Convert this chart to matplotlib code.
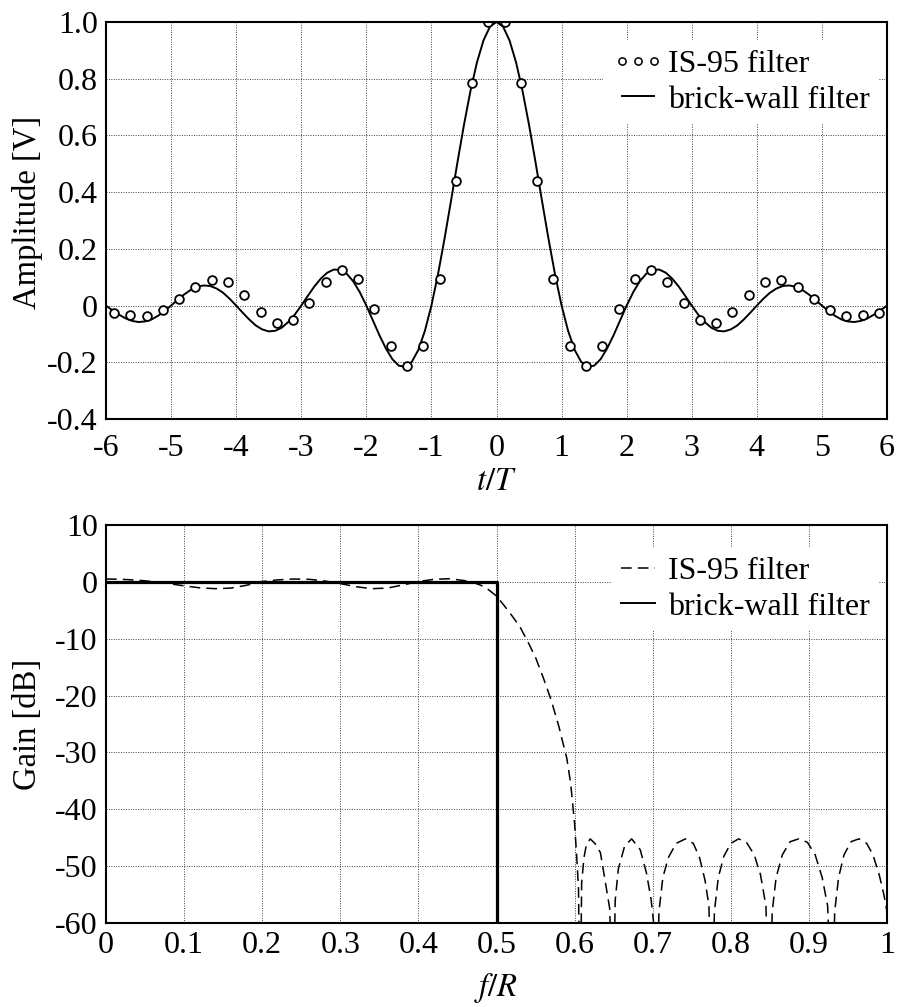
import numpy as np
import matplotlib
matplotlib.use('Agg')
import matplotlib.pyplot as plt
from matplotlib.lines import Line2D

plt.rcParams['font.family'] = ['Liberation Serif', 'DejaVu Serif']
plt.rcParams['mathtext.fontset'] = 'stix'
plt.rcParams['axes.unicode_minus'] = False

# --- impulse response (top) ---
# IS-95 taps, first half (t/T = -5.875 ... -0.125), filter is symmetric
is95_half = [-0.025, -0.034, -0.036, -0.017, 0.022, 0.065, 0.091, 0.082,
             0.037, -0.022, -0.061, -0.051, 0.008, 0.084, 0.127, 0.095,
             -0.013, -0.143, -0.212, -0.141, 0.095, 0.441, 0.786, 1.000]
t_is95 = np.arange(-5.875, 6.0, 0.25)
amp_is95 = is95_half + is95_half[::-1]

# brick-wall impulse response read at t/T = 0, 0.1, ..., 6 (even function)
brick_half = [1.000, 0.984, 0.935, 0.858, 0.757, 0.637, 0.505, 0.368, 0.234, 0.109,
              0.000, -0.089, -0.156, -0.198, -0.216, -0.212, -0.189, -0.151, -0.104, -0.052,
              0.000, 0.047, 0.085, 0.112, 0.126, 0.127, 0.116, 0.095, 0.067, 0.034,
              0.000, -0.032, -0.058, -0.078, -0.089, -0.091, -0.084, -0.070, -0.049, -0.025,
              0.000, 0.024, 0.045, 0.060, 0.069, 0.071, 0.066, 0.055, 0.039, 0.020,
              0.000, -0.019, -0.036, -0.049, -0.056, -0.058, -0.054, -0.045, -0.032, -0.017,
              0.000]
t_brick = np.linspace(-6, 6, 121)
amp_brick = brick_half[::-1] + brick_half[1:]

t_ticks = [-6, -5, -4, -3, -2, -1, 0, 1, 2, 3, 4, 5, 6]
amp_ticks = [1.0, 0.8, 0.6, 0.4, 0.2, 0, -0.2, -0.4]
amp_labels = ['1.0', '0.8', '0.6', '0.4', '0.2', '0', '-0.2', '-0.4']

# --- frequency response (bottom) ---
f_is95 = [0.00, 0.02, 0.04, 0.06, 0.08, 0.10, 0.12, 0.14, 0.16, 0.18,
          0.20, 0.22, 0.24, 0.26, 0.28, 0.30, 0.32, 0.34, 0.36, 0.38,
          0.40, 0.42, 0.44, 0.46, 0.47, 0.48, 0.49, 0.50, 0.51, 0.52,
          0.53, 0.54, 0.55, 0.56, 0.57, 0.58, 0.585, 0.59, 0.595, 0.60,
          0.603, 0.605, 0.607,
          0.609, 0.612, 0.615, 0.620, 0.626, 0.633, 0.639, 0.645, 0.649,
          0.652, 0.656, 0.664, 0.673, 0.684, 0.692, 0.698, 0.702, 0.705,
          0.708, 0.713, 0.720, 0.730, 0.742, 0.752, 0.760, 0.767, 0.772, 0.776,
          0.779, 0.784, 0.791, 0.800, 0.810, 0.820, 0.830, 0.838, 0.845, 0.850,
          0.853, 0.858, 0.866, 0.876, 0.887, 0.898, 0.908, 0.917, 0.924, 0.930,
          0.933, 0.938, 0.945, 0.954, 0.964, 0.974, 0.982, 0.990, 0.996, 1.000]
gain_is95 = [0.5, 0.45, 0.3, 0.05, -0.3, -0.7, -1.05, -1.2, -1.1, -0.6,
             0.05, 0.35, 0.5, 0.45, 0.15, -0.3, -0.85, -1.2, -1.1, -0.55,
             0.05, 0.45, 0.55, 0.2, -0.1, -0.6, -1.4, -2.5, -4.2, -6.0,
             -7.9, -10.5, -13.3, -16.9, -20.8, -25.5, -28.3, -31.0, -35.5, -42.5,
             -49.0, -54.0, -80.0,
             -53.0, -48.5, -46.3, -45.2, -46.0, -47.6, -52.5, -57.5, -80.0,
             -56.0, -50.5, -46.5, -45.2, -47.1, -51.2, -55.9, -61.0, -80.0,
             -58.0, -52.0, -48.5, -46.0, -45.2, -46.0, -48.5, -52.5, -57.0, -80.0,
             -58.0, -52.0, -48.3, -46.0, -45.2, -45.8, -48.0, -51.5, -57.0, -80.0,
             -58.0, -52.0, -48.0, -45.7, -45.2, -45.8, -48.0, -52.0, -57.0, -80.0,
             -58.0, -52.0, -48.0, -45.7, -45.2, -46.0, -48.0, -51.5, -55.0, -58.0]
f_brick = [0.0, 0.5, 0.5]
gain_brick = [0.0, 0.0, -100.0]

f_ticks = [0, 0.1, 0.2, 0.3, 0.4, 0.5, 0.6, 0.7, 0.8, 0.9, 1]
f_labels = ['0', '0.1', '0.2', '0.3', '0.4', '0.5', '0.6', '0.7', '0.8', '0.9', '1']
gain_ticks = [10, 0, -10, -20, -30, -40, -50, -60]

fs = 23
fl = 23.5
W, H = 898, 1007
fig = plt.figure(figsize=(W / 100, H / 100), dpi=100)
ax1 = fig.add_axes([106 / W, 1 - 419 / H, 781 / W, 397 / H])
ax2 = fig.add_axes([106 / W, 1 - 923 / H, 781 / W, 398 / H])

for ax in (ax1, ax2):
    ax.set_axisbelow(True)
    ax.grid(True, linestyle=(0, (1, 1.5)), linewidth=0.7, color='0.25')
    for sp in ax.spines.values():
        sp.set_linewidth(1.5)
    ax.tick_params(length=0, labelsize=fs)

leg_kw = dict(loc='upper right', fontsize=fs, labelspacing=0.2, borderpad=0.3,
              borderaxespad=0, fancybox=False, framealpha=1)

# top: impulse response
ax1.plot(t_brick, amp_brick, color='black', lw=1.4)
ax1.plot(t_is95, amp_is95, linestyle='none', marker='o', ms=6.3,
         mfc='white', mec='black', mew=1.3)
ax1.set_xlim(-6, 6)
ax1.set_ylim(-0.4, 1.0)
ax1.set_xticks(t_ticks)
ax1.set_xticklabels([str(v) for v in t_ticks])
ax1.set_yticks(amp_ticks)
ax1.set_yticklabels(amp_labels)
ax1.tick_params(axis='x', pad=11)
ax1.tick_params(axis='y', pad=6)
ax1.set_xlabel('$t/T$', fontsize=fl)
ax1.set_ylabel('Amplitude [V]', fontsize=fl)
ax1.xaxis.set_label_coords(0.5, -0.12)
ax1.yaxis.set_label_coords(-0.081, 0.52)
h1 = [Line2D([], [], linestyle='none', marker='o', ms=5.2, mfc='white', mec='black', mew=1.1),
      Line2D([], [], color='black', lw=1.4)]
leg1 = ax1.legend(h1, ['IS-95 filter', 'brick-wall filter'],
                  bbox_to_anchor=(0.99, 0.955), numpoints=3,
                  handlelength=1.6, handletextpad=0.14, **leg_kw)
leg1.get_frame().set_edgecolor('none')

# bottom: frequency response
ax2.plot(f_is95, gain_is95, color='black', lw=1.1, dashes=(7, 4))
ax2.plot(f_brick, gain_brick, color='black', lw=2.3)
ax2.set_xlim(0, 1)
ax2.set_ylim(-60, 10)
ax2.set_xticks(f_ticks)
ax2.set_xticklabels(f_labels)
ax2.set_yticks(gain_ticks)
ax2.set_yticklabels([str(v) for v in gain_ticks])
ax2.tick_params(axis='x', pad=6)
ax2.tick_params(axis='y', pad=6)
ax2.set_xlabel('$f/R$', fontsize=fl)
ax2.set_ylabel('Gain [dB]', fontsize=fl)
ax2.xaxis.set_label_coords(0.5, -0.12)
ax2.yaxis.set_label_coords(-0.081, 0.5)
h2 = [Line2D([], [], color='black', lw=1.1, dashes=(7, 4)),
      Line2D([], [], color='black', lw=1.4)]
leg2 = ax2.legend(h2, ['IS-95 filter', 'brick-wall filter'],
                  bbox_to_anchor=(0.99, 0.945), numpoints=1,
                  handlelength=1.07, handletextpad=0.41, **leg_kw)
leg2.get_frame().set_edgecolor('none')

fig.savefig('out.png', dpi=100)
